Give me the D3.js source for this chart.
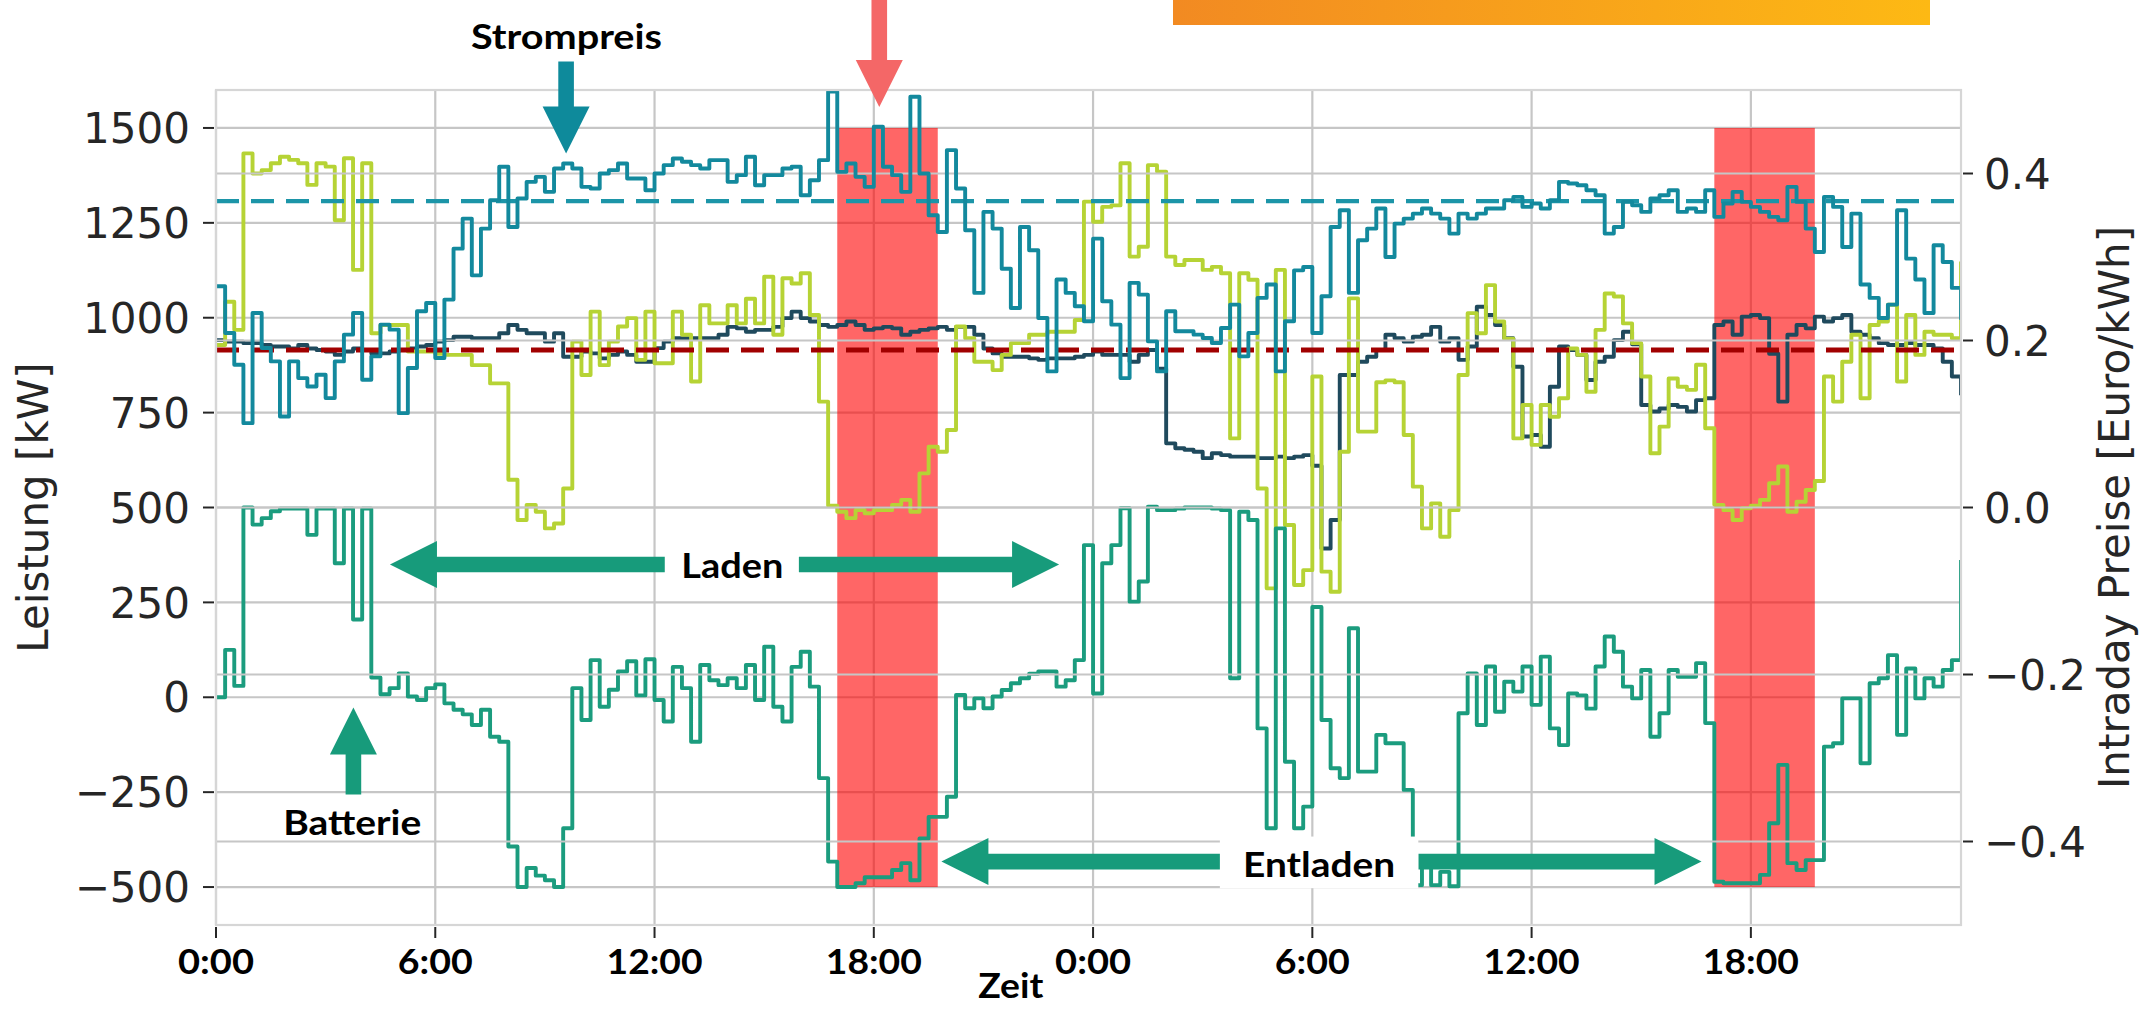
<!DOCTYPE html>
<html>
<head>
<meta charset="utf-8">
<script src="https://cdn.jsdelivr.net/npm/d3@7"></script>
<style>
  html, body { margin: 0; padding: 0; background: #fff; }
  svg { display: block; }
</style>
</head>
<body>
<script>
// ---- data: 15-minute values over two days ----
const hours = d3.range(192).map(i => i * 0.25);

// battery power [kW] (positive = charging)
const batteryPower = [
  0, 125, 30, 500, 455, 472, 490, 497,
  497, 497, 428, 497, 497, 353, 497, 205,
  497, 52, 8, 24, 63, 2, -7, 24,
  34, -16, -33, -45, -73, -33, -104, -117,
  -393, -500, -450, -470, -482, -500, -345, 24,
  -60, 98, -25, 20, 68, 95, 5, 100,
  -7, -64, 80, 24, -117, 85, 45, 32,
  50, 24, 85, -7, 133, -25, -64, 80,
  120, 28, -213, -433, -500, -500, -490, -474,
  -474, -474, -455, -437, -482, -372, -315, -315,
  -262, 6, -29, -3, -29, 2, 19, 37,
  50, 62, 68, 68, 28, 45, 98, 401,
  10, 353, 401, 498, 252, 305, 502, 493,
  493, 497, 500, 500, 500, 497, 493, 50,
  489, 467, -82, -345, 445, -170, -345, -288,
  238, -60, -187, -213, 182, -196, -196, -99,
  -121, -121, -244, -495, -420, -495, -460, -498,
  -42, 63, -73, 81, -38, 41, 15, 81,
  -20, 107, -82, -126, 10, 5, -30, 81,
  160, 120, 28, -3, 72, -104, -42, 72,
  54, 54, 90, -68, -486, -490, -490, -490,
  -490, -468, -332, -178, -437, -455, -429, -429,
  -130, -121, -3, -3, -174, 37, 50, 111,
  -99, 76, -3, 50, 28, 72, 98, 362
];

// site load [kW]
const loadPower = [
  928, 1042, 968, 1433, 1380, 1389, 1407, 1424,
  1416, 1407, 1350, 1407, 1398, 1257, 1420, 1126,
  1407, 959, 981, 981, 981, 911, 911, 911,
  905, 902, 902, 902, 875, 875, 827, 827,
  573, 467, 507, 489, 445, 458, 550, 937,
  849, 1016, 875, 937, 977, 999, 889, 1016,
  880, 880, 1016, 955, 832, 1033, 985, 985,
  1033, 985, 1050, 985, 1108, 955, 1104, 1090,
  1117, 1007, 779, 505, 489, 472, 493, 485,
  493, 493, 507, 520, 489, 590, 660, 647,
  704, 977, 946, 884, 884, 862, 902, 933,
  933, 955, 955, 963, 963, 963, 994, 1306,
  1253, 1292, 1296, 1407, 1161, 1187, 1402, 1385,
  1161, 1139, 1152, 1152, 1126, 1134, 1117, 682,
  1117, 1100, 550, 287, 1126, 454, 296, 335,
  845, 331, 278, 647, 1051, 700, 700, 830,
  835, 830, 691, 555, 445, 511, 423, 493,
  849, 1012, 959, 1086, 990, 945, 682, 770,
  665, 770, 739, 788, 919, 902, 805, 968,
  1064, 1056, 985, 933, 845, 643, 713, 840,
  818, 810, 876, 709, 507, 493, 467, 498,
  505, 520, 564, 608, 489, 515, 546, 570,
  845, 779, 884, 955, 788, 981, 990, 1034,
  832, 1007, 902, 963, 955, 955, 946, 1148
];

// grid draw [kW]
const gridPower = [
  941, 937, 937, 933, 933, 928, 924, 924,
  919, 928, 919, 915, 911, 902, 911, 919,
  915, 906, 906, 911, 915, 919, 924, 928,
  937, 941, 950, 950, 946, 946, 946, 959,
  981, 968, 959, 959, 937, 959, 897, 897,
  911, 906, 893, 902, 911, 902, 884, 884,
  920, 937, 946, 946, 946, 946, 946, 955,
  976, 972, 963, 968, 968, 976, 999, 1016,
  999, 990, 981, 976, 981, 990, 981, 968,
  972, 976, 972, 955, 963, 968, 972, 976,
  968, 976, 976, 955, 919, 906, 897, 897,
  897, 893, 889, 893, 893, 893, 897, 902,
  911, 902, 902, 902, 884, 902, 915, 866,
  669, 656, 652, 647, 630, 643, 638, 634,
  634, 634, 630, 630, 634, 630, 634, 638,
  610, 392, 467, 849, 849, 884, 897, 915,
  955, 946, 937, 950, 955, 976, 937, 946,
  889, 924, 1029, 1007, 981, 946, 871, 687,
  691, 660, 818, 924, 915, 902, 836, 884,
  897, 941, 963, 930, 770, 753, 761, 770,
  765, 753, 783, 788, 981, 990, 955, 1003,
  1007, 999, 905, 779, 955, 981, 972, 1003,
  990, 999, 1007, 963, 955, 946, 933, 928,
  928, 933, 928, 928, 919, 884, 845, 796
];

// intraday price [Euro/kWh]
const spotPrice = [
  0.265, 0.209, 0.171, 0.101, 0.233, 0.191, 0.175, 0.109,
  0.175, 0.155, 0.145, 0.159, 0.131, 0.175, 0.207, 0.233,
  0.153, 0.181, 0.219, 0.213, 0.113, 0.167, 0.235, 0.245,
  0.179, 0.249, 0.310, 0.346, 0.278, 0.334, 0.368, 0.408,
  0.336, 0.370, 0.390, 0.396, 0.378, 0.406, 0.412, 0.406,
  0.384, 0.382, 0.400, 0.404, 0.412, 0.394, 0.394, 0.380,
  0.400, 0.410, 0.418, 0.414, 0.410, 0.406, 0.416, 0.416,
  0.390, 0.398, 0.420, 0.386, 0.398, 0.398, 0.406, 0.408,
  0.374, 0.392, 0.416, 0.498, 0.402, 0.412, 0.396, 0.384,
  0.456, 0.408, 0.398, 0.378, 0.492, 0.400, 0.350, 0.330,
  0.428, 0.382, 0.332, 0.257, 0.354, 0.334, 0.286, 0.239,
  0.336, 0.308, 0.227, 0.163, 0.273, 0.257, 0.241, 0.223,
  0.322, 0.247, 0.219, 0.155, 0.269, 0.255, 0.199, 0.163,
  0.235, 0.211, 0.211, 0.207, 0.203, 0.197, 0.215, 0.243,
  0.181, 0.209, 0.251, 0.267, 0.163, 0.223, 0.284, 0.288,
  0.209, 0.253, 0.336, 0.356, 0.257, 0.320, 0.334, 0.358,
  0.300, 0.340, 0.346, 0.352, 0.358, 0.352, 0.346, 0.328,
  0.352, 0.346, 0.352, 0.358, 0.358, 0.368, 0.372, 0.360,
  0.364, 0.358, 0.368, 0.390, 0.388, 0.386, 0.380, 0.374,
  0.328, 0.336, 0.366, 0.362, 0.354, 0.370, 0.374, 0.380,
  0.354, 0.358, 0.354, 0.380, 0.348, 0.364, 0.378, 0.366,
  0.360, 0.354, 0.348, 0.344, 0.384, 0.366, 0.334, 0.306,
  0.372, 0.360, 0.312, 0.352, 0.267, 0.251, 0.227, 0.243,
  0.356, 0.298, 0.273, 0.233, 0.314, 0.294, 0.263, 0.225
];

const meanPrice = 0.367;          // teal dashed reference
const peakLimit = 915;            // dark red dashed reference [kW]
const peakWindows = [[17, 19.75], [41, 43.75]];   // high-price windows [h]
const peakBand = [-500, 1500];

const hourTicks = [0, 6, 12, 18, 24, 30, 36, 42];
const hourLabels = ["0:00", "6:00", "12:00", "18:00", "0:00", "6:00", "12:00", "18:00"];
const hourLabelWidths = [76, 75, 96, 96, 76, 75, 96, 96];
const powerTicks = [-500, -250, 0, 250, 500, 750, 1000, 1250, 1500];
const priceTicks = [-0.4, -0.2, 0.0, 0.2, 0.4];

// ---- layout ----
const W = 2146, H = 1009;
const plot = { left: 216, right: 1961, top: 90, bottom: 925 };

const x = d3.scaleLinear().domain([0, 47.75]).range([plot.left, plot.right]);
const yL = d3.scaleLinear().domain([-600, 1600]).range([plot.bottom, plot.top]);
const yR = d3.scaleLinear().domain([-0.5, 0.5]).range([plot.bottom, plot.top]);

const C = {
  battery: "#1b9c7e",
  load: "#b6d335",
  grid: "#1f4a5d",
  price: "#13899d",
  priceMean: "#1c95a8",
  limit: "#a10000",
  window: "#ff0000",
  gridline: "#c6c6c6",
  arrowGreen: "#179b7b",
  arrowTeal: "#0e8a9b",
  arrowRed: "#f46767",
  text: "#262626"
};
const LW = 3.9;

const svg = d3.select("body").append("svg")
  .attr("width", W).attr("height", H)
  .attr("viewBox", `0 0 ${W} ${H}`);

svg.append("rect").attr("width", W).attr("height", H).attr("fill", "#fff");

const defs = svg.append("defs");
defs.append("clipPath").attr("id", "plotClip")
  .append("rect")
  .attr("x", plot.left).attr("y", plot.top)
  .attr("width", plot.right - plot.left).attr("height", plot.bottom - plot.top);

const grad = defs.append("linearGradient").attr("id", "bannerGrad")
  .attr("x1", "0%").attr("x2", "100%").attr("y1", "0%").attr("y2", "0%");
grad.append("stop").attr("offset", "0%").attr("stop-color", "#f28a22");
grad.append("stop").attr("offset", "100%").attr("stop-color", "#fdb914");

// banner strip at the top
svg.append("rect")
  .attr("x", 1173).attr("y", 0).attr("width", 757).attr("height", 25)
  .attr("fill", "url(#bannerGrad)");

// ---- left-axis grid (below the windows) ----
const gLeftGrid = svg.append("g");
gLeftGrid.selectAll("line.v").data(hourTicks).join("line")
  .attr("x1", d => x(d)).attr("x2", d => x(d))
  .attr("y1", plot.top).attr("y2", plot.bottom)
  .attr("stroke", C.gridline).attr("stroke-width", 2.2);
gLeftGrid.selectAll("line.h").data(powerTicks).join("line")
  .attr("x1", plot.left).attr("x2", plot.right)
  .attr("y1", d => yL(d)).attr("y2", d => yL(d))
  .attr("stroke", C.gridline).attr("stroke-width", 2.2);

// high-price windows
svg.append("g").selectAll("rect").data(peakWindows).join("rect")
  .attr("x", d => x(d[0])).attr("width", d => x(d[1]) - x(d[0]))
  .attr("y", yL(peakBand[1])).attr("height", yL(peakBand[0]) - yL(peakBand[1]))
  .attr("fill", C.window).attr("fill-opacity", 0.6);

// ---- power series ----
const gLines = svg.append("g").attr("clip-path", "url(#plotClip)");
const powerLine = d3.line()
  .x((d, i) => x(hours[i]))
  .y(d => yL(d))
  .curve(d3.curveStepAfter);

[[gridPower, C.grid], [loadPower, C.load], [batteryPower, C.battery]].forEach(([s, col]) => {
  gLines.append("path").datum(s)
    .attr("d", powerLine)
    .attr("fill", "none").attr("stroke", col)
    .attr("stroke-width", LW).attr("stroke-linejoin", "round");
});

gLines.append("line")
  .attr("x1", plot.left).attr("x2", plot.right)
  .attr("y1", yL(peakLimit)).attr("y2", yL(peakLimit))
  .attr("stroke", C.limit).attr("stroke-width", 4.8)
  .attr("stroke-dasharray", "23,12");

// ---- right-axis grid (drawn over the power layer) ----
svg.append("g").selectAll("line").data(priceTicks).join("line")
  .attr("x1", plot.left).attr("x2", plot.right)
  .attr("y1", d => yR(d)).attr("y2", d => yR(d))
  .attr("stroke", C.gridline).attr("stroke-width", 2.2);

// ---- price series ----
const gPrice = svg.append("g").attr("clip-path", "url(#plotClip)");
gPrice.append("line")
  .attr("x1", plot.left).attr("x2", plot.right)
  .attr("y1", yR(meanPrice)).attr("y2", yR(meanPrice))
  .attr("stroke", C.priceMean).attr("stroke-width", 4.2)
  .attr("stroke-dasharray", "23,12");

const priceLine = d3.line()
  .x((d, i) => x(hours[i]))
  .y(d => yR(d))
  .curve(d3.curveStepAfter);
gPrice.append("path").datum(spotPrice)
  .attr("d", priceLine)
  .attr("fill", "none").attr("stroke", C.price)
  .attr("stroke-width", LW).attr("stroke-linejoin", "round");

// frame
svg.append("rect")
  .attr("x", plot.left).attr("y", plot.top)
  .attr("width", plot.right - plot.left).attr("height", plot.bottom - plot.top)
  .attr("fill", "none").attr("stroke", "#d6d6d6").attr("stroke-width", 2.2);

// ---- axes ----
const tickFont = "'DejaVu Sans', sans-serif";
const gAxL = svg.append("g");
gAxL.selectAll("line").data(powerTicks).join("line")
  .attr("x1", plot.left - 13).attr("x2", plot.left - 2)
  .attr("y1", d => yL(d)).attr("y2", d => yL(d))
  .attr("stroke", C.text).attr("stroke-width", 2);
gAxL.selectAll("text").data(powerTicks).join("text")
  .attr("x", 190).attr("y", d => yL(d))
  .attr("dy", "0.36em")
  .attr("text-anchor", "end")
  .attr("font-family", tickFont).attr("font-size", 42).attr("fill", C.text)
  .text(d => d < 0 ? "\u2212" + Math.abs(d) : String(d));

const gAxR = svg.append("g");
gAxR.selectAll("line").data(priceTicks).join("line")
  .attr("x1", plot.right + 2).attr("x2", plot.right + 12)
  .attr("y1", d => yR(d)).attr("y2", d => yR(d))
  .attr("stroke", C.text).attr("stroke-width", 2);
gAxR.selectAll("text").data(priceTicks).join("text")
  .attr("x", 1984).attr("y", d => yR(d))
  .attr("dy", "0.36em")
  .attr("font-family", tickFont).attr("font-size", 42).attr("fill", C.text)
  .text(d => (d < 0 ? "\u2212" : "") + Math.abs(d).toFixed(1));

const gAxB = svg.append("g");
gAxB.selectAll("line").data(hourTicks).join("line")
  .attr("x1", d => x(d)).attr("x2", d => x(d))
  .attr("y1", plot.bottom + 2).attr("y2", plot.bottom + 13)
  .attr("stroke", C.text).attr("stroke-width", 2);

const boldFont = "Lato, 'Open Sans', sans-serif";
function boldText(g, txt, cx, baseline, width) {
  const t = g.append("text")
    .attr("x", cx).attr("y", baseline)
    .attr("text-anchor", "middle")
    .attr("font-family", boldFont).attr("font-weight", 700)
    .attr("font-size", 35).attr("fill", "#000")
    .text(txt);
  if (width) t.attr("textLength", width).attr("lengthAdjust", "spacingAndGlyphs");
  return t;
}
hourTicks.forEach((h, i) => boldText(gAxB, hourLabels[i], x(h), 974, hourLabelWidths[i]));
boldText(svg, "Zeit", x(21.75), 998, 65);

svg.append("text")
  .attr("transform", `translate(48, ${yL(500)}) rotate(-90)`)
  .attr("text-anchor", "middle")
  .attr("font-family", tickFont).attr("font-size", 42).attr("fill", C.text)
  .text("Leistung [kW]");
svg.append("text")
  .attr("transform", `translate(2129, ${yR(0)}) rotate(-90)`)
  .attr("text-anchor", "middle")
  .attr("font-family", tickFont).attr("font-size", 42).attr("fill", C.text)
  .text("Intraday Preise [Euro/kWh]");

// ---- annotations ----
// block arrow: tip at (tx, ty), pointing in direction (dx, dy), total length len
function blockArrow(g, tx, ty, dx, dy, len, color) {
  const head = 47, half = 23.5, shaft = 7.8;
  const px = -dy, py = dx;                 // perpendicular
  const bx = tx - dx * head, by = ty - dy * head;
  const ex = tx - dx * len, ey = ty - dy * len;
  const pts = [
    [tx, ty],
    [bx + px * half, by + py * half],
    [bx + px * shaft, by + py * shaft],
    [ex + px * shaft, ey + py * shaft],
    [ex - px * shaft, ey - py * shaft],
    [bx - px * shaft, by - py * shaft],
    [bx - px * half, by - py * half]
  ];
  g.append("path").attr("d", "M" + pts.map(p => p.join(",")).join("L") + "Z")
    .attr("fill", color);
}
const gAnn = svg.append("g");

// Laden
const ladenY = yL(350);
blockArrow(gAnn, x(4.76), ladenY, -1, 0, x(12.28) - x(4.76), C.arrowGreen);
blockArrow(gAnn, x(23.07), ladenY, 1, 0, x(23.07) - x(15.95), C.arrowGreen);
boldText(gAnn, "Laden", x(14.13), ladenY + 14, 102);

// Entladen
const entY = yL(-433);
blockArrow(gAnn, x(19.85), entY, -1, 0, x(27.5) - x(19.85), C.arrowGreen);
blockArrow(gAnn, x(40.65), entY, 1, 0, x(40.65) - x(32.9), C.arrowGreen);
gAnn.append("rect")
  .attr("x", x(27.47)).attr("width", x(32.9) - x(27.47))
  .attr("y", yL(-367)).attr("height", yL(-503) - yL(-367))
  .attr("fill", "#fff");
boldText(gAnn, "Entladen", (x(27.47) + x(32.9)) / 2, entY + 15, 152);

// Batterie
blockArrow(gAnn, x(3.76), yL(-27), 0, -1, yL(-256) - yL(-27), C.arrowGreen);
boldText(gAnn, "Batterie", x(3.73), 835, 138);

// Strompreis
blockArrow(gAnn, x(9.58), yR(0.424), 0, 1, 92, C.arrowTeal);
boldText(gAnn, "Strompreis", x(9.59), 49, 191);

// high-price window marker
blockArrow(gAnn, x(18.15), 107, 0, 1, 110, C.arrowRed);
</script>
</body>
</html>
